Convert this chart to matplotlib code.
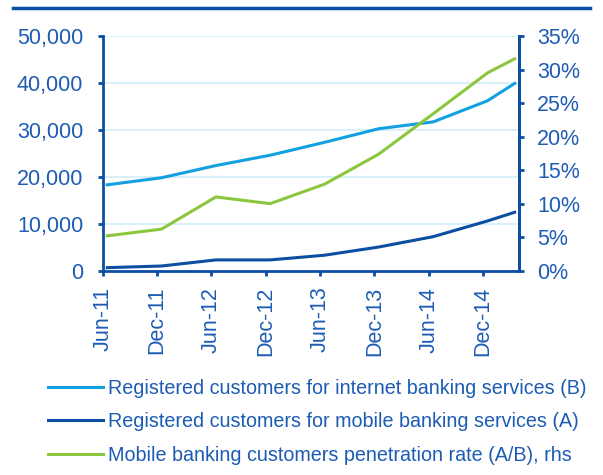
import matplotlib
matplotlib.use('Agg')
from matplotlib import pyplot as plt
from matplotlib.lines import Line2D
from matplotlib.ticker import FuncFormatter

# dados
datas = ['Jun-11', 'Dec-11', 'Jun-12', 'Dec-12', 'Jun-13', 'Dec-13', 'Jun-14', 'Dec-14', 'Mar-15']
internet = [18300, 19800, 22400, 24600, 27350, 30250, 31700, 36200, 39900]
mobile = [650, 1000, 2300, 2300, 3300, 5050, 7250, 10600, 12450]
penetracao = [5.2, 6.2, 11.0, 10.0, 12.9, 17.4, 23.4, 29.5, 31.6]
rotulos_x = ['Jun-11', 'Dec-11', 'Jun-12', 'Dec-12', 'Jun-13', 'Dec-13', 'Jun-14', 'Dec-14']

meses = {'Jan': 1, 'Feb': 2, 'Mar': 3, 'Apr': 4, 'May': 5, 'Jun': 6,
         'Jul': 7, 'Aug': 8, 'Sep': 9, 'Oct': 10, 'Nov': 11, 'Dec': 12}


def indice(rotulo):
    m, a = rotulo.split('-')
    return (int(a) - 11) * 12 + meses[m] - 6


x = [indice(d) + 0.5 for d in datas]
x_ticks = [indice(d) for d in rotulos_x]

azul_escuro = '#0B4EA2'
azul_claro = '#12A0E0'
verde = '#8CC63F'
azul_texto = '#1D5CB4'
grade = '#D2ECF8'

plt.rcParams['font.family'] = 'Liberation Sans'

fig = plt.figure(figsize=(6.03, 4.75), dpi=100)
ax = fig.add_axes([0.1703, 0.4301, 0.6907, 0.4941])
ax2 = ax.twinx()

ax.plot(x, internet, color=azul_claro, linewidth=2.2)
ax.plot(x, mobile, color=azul_escuro, linewidth=2.2)
ax2.plot(x, penetracao, color=verde, linewidth=2.2)

ax.set_xlim(0, 46)
ax.set_ylim(0, 50000)
ax2.set_ylim(0, 35)
ax.set_yticks(range(0, 50001, 10000))
ax2.set_yticks(range(0, 36, 5))
ax.yaxis.set_major_formatter(FuncFormatter(lambda v, p: f'{int(v):,}'))
ax2.yaxis.set_major_formatter(FuncFormatter(lambda v, p: f'{int(v)}%'))
ax.set_xticks(x_ticks)
ax.set_xticklabels(rotulos_x, rotation=90)

ax.grid(axis='y', color=grade, linewidth=1.2)
ax.set_axisbelow(True)

for a in (ax, ax2):
    a.spines['top'].set_visible(False)
    for s in ('left', 'right', 'bottom'):
        a.spines[s].set_color(azul_escuro)
        a.spines[s].set_linewidth(2)
    a.tick_params(colors=azul_escuro, labelcolor=azul_texto, labelsize=15.5,
                  width=2, length=3.5, direction='out')
ax2.spines['left'].set_visible(False)
ax2.spines['bottom'].set_visible(False)

ax.tick_params(axis='y', pad=10.5)
ax2.tick_params(axis='y', pad=9.5)
ax.tick_params(axis='x', pad=8)

# linha do topo
fig.add_artist(Line2D([0.022, 0.978], [0.983, 0.983], color=azul_escuro, linewidth=2.5))

handles = [Line2D([], [], color=azul_claro, linewidth=2.2),
           Line2D([], [], color=azul_escuro, linewidth=2.2),
           Line2D([], [], color=verde, linewidth=2.2)]
nomes = ['Registered customers for internet banking services (B)',
         'Registered customers for mobile banking services (A)',
         'Mobile banking customers penetration rate (A/B), rhs']
leg = fig.legend(handles, nomes, loc='upper left', bbox_to_anchor=(0.079, 0.203),
                 frameon=False, fontsize=14.2, handlelength=2.8, handletextpad=0.25,
                 labelspacing=0.74, borderaxespad=0, borderpad=0)
for t in leg.get_texts():
    t.set_color(azul_texto)

plt.savefig('out.png', dpi=100)
